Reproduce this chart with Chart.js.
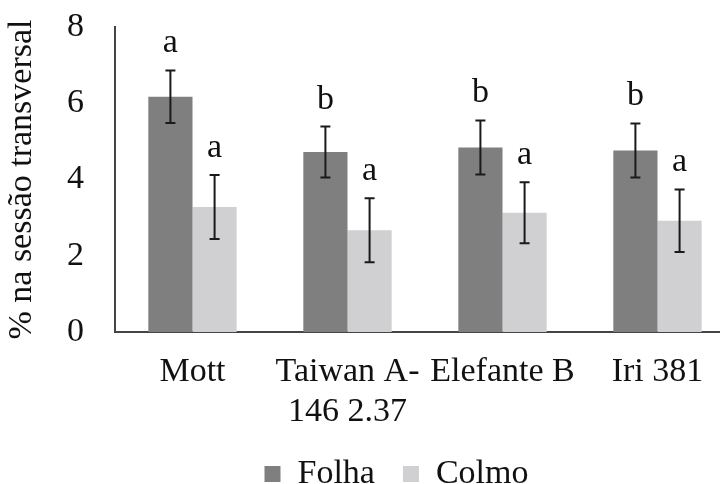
<!DOCTYPE html>
<html>
<head>
<meta charset="utf-8">
<script src="https://cdn.jsdelivr.net/npm/chart.js@4.4.0/dist/chart.umd.min.js"></script>
<style>
  html, body { margin: 0; padding: 0; background: #fff; overflow: hidden; }
  #wrap { width: 735px; height: 501px; position: relative; }
</style>
</head>
<body>
<div id="wrap"><canvas id="c"></canvas></div>
<script>
const categories = ['Mott', ['Taiwan A-', '146 2.37'], 'Elefante B', 'Iri 381'];
const seriesNames = ['Folha', 'Colmo'];
const folha = [6.17, 4.72, 4.84, 4.76];
const folhaErr = [0.69, 0.67, 0.71, 0.71];
const colmo = [3.28, 2.67, 3.13, 2.92];
const colmoErr = [0.84, 0.84, 0.80, 0.82];
const folhaLetters = ['a', 'b', 'b', 'b'];
const colmoLetters = ['a', 'a', 'a', 'a'];
const yTicks = [0, 2, 4, 6, 8];

const FONT = '"Liberation Serif", "Times New Roman", serif';
const errs = [folhaErr, colmoErr];
const letters = [folhaLetters, colmoLetters];

const errorBarPlugin = {
  id: 'errorBars',
  afterDatasetsDraw(chart) {
    const ctx = chart.ctx;
    const y = chart.scales.y;
    ctx.save();
    chart.data.datasets.forEach((ds, di) => {
      const meta = chart.getDatasetMeta(di);
      meta.data.forEach((bar, i) => {
        const v = ds.data[i];
        const e = errs[di][i];
        const yt = y.getPixelForValue(v + e);
        const yb = y.getPixelForValue(v - e);
        const x = bar.x;
        ctx.strokeStyle = '#1a1a1a';
        ctx.lineWidth = 2;
        ctx.beginPath();
        ctx.moveTo(x, yt); ctx.lineTo(x, yb);
        ctx.moveTo(x - 5, yt); ctx.lineTo(x + 5, yt);
        ctx.moveTo(x - 5, yb); ctx.lineTo(x + 5, yb);
        ctx.stroke();
        ctx.fillStyle = '#111';
        ctx.font = '34px ' + FONT;
        ctx.textAlign = 'center';
        ctx.textBaseline = 'alphabetic';
        ctx.fillText(letters[di][i], x, yt - 18);
      });
    });
    ctx.restore();
  }
};

new Chart(document.getElementById('c'), {
  type: 'bar',
  data: {
    labels: categories,
    datasets: [
      { label: seriesNames[0], data: folha, backgroundColor: '#7f7f7f', borderWidth: 0 },
      { label: seriesNames[1], data: colmo, backgroundColor: '#d0cfd1', borderWidth: 0 }
    ]
  },
  options: {
    responsive: true,
    maintainAspectRatio: false,
    animation: false,
    devicePixelRatio: 1,
    datasets: { bar: { categoryPercentage: 0.57, barPercentage: 1.0 } },
    layout: { padding: { left: 58, right: 0, top: 27, bottom: 0 } },
    plugins: {
      legend: {
        position: 'bottom',
        labels: {
          boxWidth: 16, boxHeight: 16,
          padding: 28,
          color: '#111',
          font: { family: FONT, size: 34, lineHeight: 1.0 }
        }
      },
      tooltip: { enabled: false }
    },
    scales: {
      x: {
        afterFit(scale) { scale.height = 97; },
        grid: { display: false, drawTicks: false },
        border: { display: true, color: '#444', width: 2 },
        ticks: {
          color: '#111', font: { family: FONT, size: 34, lineHeight: 40 / 34 },
          maxRotation: 0, minRotation: 0, autoSkip: false, padding: 20
        }
      },
      y: {
        min: 0, max: 8,
        afterBuildTicks(scale) { scale.ticks = yTicks.map(v => ({ value: v })); },
        afterFit(scale) { scale.width = 57; scale.paddingTop = 0; scale.paddingBottom = 0; },
        grid: { display: false, drawTicks: false },
        border: { display: true, color: '#444', width: 2 },
        ticks: {
          color: '#111', font: { family: FONT, size: 34 }, padding: 31
        },
        title: {
          display: true,
          text: '% na sessão transversal',
          color: '#111',
          font: { family: FONT, size: 34, lineHeight: 1.2 },
          padding: { top: -56, bottom: 0 }
        }
      }
    }
  },
  plugins: [errorBarPlugin]
});
</script>
</body>
</html>
